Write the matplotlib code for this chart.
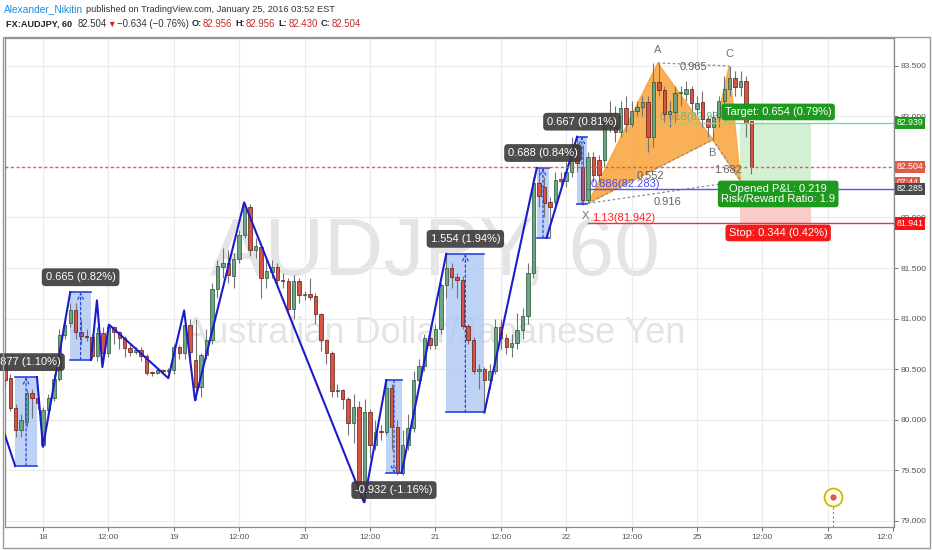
import numpy as np
import matplotlib
matplotlib.use('Agg')
import matplotlib.pyplot as plt
import matplotlib.transforms as mtransforms
from matplotlib.patches import Rectangle, Polygon

plt.rcParams['font.family'] = ['Liberation Sans', 'DejaVu Sans']

# hourly bars, index 0 = Jan 18 00:00 (weekend hours removed)
bar_start = -7
opens = [80.56, 80.41, 80.11, 79.90, 79.98, 80.26, 80.21, 79.75, 80.09, 80.21,
         80.40, 80.84, 80.96, 81.08, 80.87, 80.83, 80.82, 80.63, 80.86, 80.66,
         80.92, 80.87, 80.81, 80.71, 80.67, 80.69, 80.63, 80.47, 80.46, 80.49,
         80.48, 80.49, 80.72, 80.66, 80.94, 80.59, 80.32, 80.64, 80.79, 81.29,
         81.51, 81.55, 81.42, 81.59, 81.83, 82.10, 81.68, 81.71, 81.40, 81.46,
         81.51, 81.38, 81.37, 81.09, 81.37, 81.23, 81.24, 81.22, 81.04, 80.79,
         80.66, 80.28, 80.29, 80.20, 79.97, 80.12, 79.27, 80.07, 79.75, 79.89,
         79.88, 80.31, 79.93, 79.47, 79.75, 79.92, 80.39, 80.53, 80.81, 80.74,
         80.90, 81.33, 81.50, 81.41, 81.38, 80.93, 80.79, 80.48, 80.50, 80.39,
         80.48, 80.92, 80.81, 80.72, 80.76, 80.89, 81.02, 81.45, 82.34, 82.30,
         82.15, 82.15, 82.38, 82.36, 82.45, 82.72, 82.50, 82.17, 82.60, 82.57,
         82.57, 82.92, 82.96, 82.85, 83.08, 82.93, 83.05, 83.09, 83.14, 82.80,
         83.34, 83.26, 83.02, 83.04, 83.23, 83.22, 83.27, 83.07, 83.14, 82.98,
         82.90, 82.99, 83.15, 83.27, 83.38, 83.29, 83.35, 82.956]
highs = [80.60, 80.45, 80.15, 80.05, 80.30, 80.30, 80.25, 80.12, 80.25, 80.45,
         80.90, 81.00, 81.15, 81.15, 81.00, 80.90, 80.85, 80.92, 80.92, 80.95,
         80.93, 80.88, 80.83, 80.75, 80.72, 80.72, 80.65, 80.48, 80.50, 80.50,
         80.51, 80.75, 80.74, 81.00, 81.00, 81.00, 80.66, 80.90, 81.35, 81.58,
         81.70, 81.68, 81.65, 81.88, 82.14, 82.13, 81.80, 81.75, 81.60, 81.58,
         81.55, 81.45, 81.40, 81.43, 81.40, 81.27, 81.40, 81.25, 81.05, 80.80,
         80.68, 80.35, 80.30, 80.22, 80.25, 80.18, 80.20, 80.10, 80.00, 79.95,
         80.40, 80.35, 80.00, 79.90, 80.05, 80.48, 80.60, 80.85, 80.90, 80.95,
         81.35, 81.64, 81.55, 81.45, 81.42, 80.95, 80.82, 80.55, 80.52, 80.55,
         81.00, 81.00, 80.85, 80.85, 81.05, 81.10, 81.55, 82.40, 82.49, 82.40,
         82.20, 82.45, 82.45, 82.55, 82.80, 82.80, 82.72, 82.65, 82.65, 82.62,
         83.00, 83.15, 83.10, 83.15, 83.20, 83.15, 83.15, 83.20, 83.20, 83.53,
         83.53, 83.30, 83.15, 83.30, 83.30, 83.35, 83.30, 83.20, 83.25, 83.00,
         83.05, 83.20, 83.40, 83.50, 83.45, 83.45, 83.40, 82.956]
lows = [80.33, 80.08, 79.83, 79.83, 79.93, 80.02, 80.10, 79.73, 80.05, 80.18,
        80.38, 80.80, 80.92, 80.80, 80.75, 80.78, 80.60, 80.58, 80.62, 80.62,
        80.75, 80.70, 80.62, 80.63, 80.65, 80.58, 80.44, 80.43, 80.45, 80.46,
        80.46, 80.45, 80.60, 80.60, 80.55, 80.19, 80.22, 80.60, 80.75, 81.20,
        81.40, 81.35, 81.30, 81.55, 81.80, 81.62, 81.60, 81.20, 81.30, 81.40,
        81.30, 81.30, 81.05, 81.00, 81.15, 81.18, 81.18, 80.95, 80.68, 80.55,
        80.22, 80.22, 80.10, 79.85, 79.77, 79.30, 79.18, 79.62, 79.70, 79.80,
        79.85, 79.70, 79.45, 79.45, 79.70, 79.88, 80.35, 80.48, 80.70, 80.70,
        80.85, 81.20, 81.30, 81.20, 80.90, 80.75, 80.45, 80.30, 80.07, 80.30,
        80.45, 80.70, 80.65, 80.62, 80.70, 80.80, 80.95, 81.40, 82.10, 82.00,
        81.80, 82.10, 82.30, 82.30, 82.40, 82.45, 82.12, 82.14, 82.35, 82.35,
        82.50, 82.85, 82.75, 82.80, 82.85, 82.90, 83.00, 83.00, 82.65, 82.70,
        83.20, 82.95, 82.90, 82.95, 83.10, 83.15, 83.05, 83.00, 82.90, 82.80,
        82.77, 82.90, 83.10, 83.20, 83.20, 83.20, 82.80, 82.430]
closes = [80.39, 80.11, 79.90, 80.00, 80.26, 80.21, 80.16, 80.09, 80.21, 80.40,
          80.84, 80.94, 81.08, 80.87, 80.83, 80.82, 80.63, 80.86, 80.66, 80.92,
          80.87, 80.81, 80.71, 80.67, 80.69, 80.63, 80.46, 80.46, 80.49, 80.48,
          80.49, 80.72, 80.66, 80.94, 80.67, 80.32, 80.64, 80.79, 81.29, 81.52,
          81.55, 81.43, 81.59, 81.83, 82.10, 81.68, 81.72, 81.40, 81.47, 81.51,
          81.38, 81.37, 81.09, 81.37, 81.23, 81.24, 81.21, 81.04, 80.79, 80.66,
          80.28, 80.29, 80.20, 79.97, 80.12, 79.31, 80.07, 79.75, 79.88, 79.88,
          80.31, 79.93, 79.47, 79.75, 79.92, 80.39, 80.53, 80.81, 80.74, 80.90,
          81.33, 81.50, 81.41, 81.38, 80.93, 80.79, 80.48, 80.50, 80.39, 80.48,
          80.92, 80.81, 80.72, 80.76, 80.89, 81.02, 81.45, 82.34, 82.21, 82.14,
          82.10, 82.37, 82.36, 82.45, 82.72, 82.54, 82.17, 82.60, 82.42, 82.42,
          82.94, 82.96, 82.85, 83.08, 82.93, 83.05, 83.09, 83.14, 82.80, 83.34,
          83.26, 83.02, 83.05, 83.23, 83.24, 83.27, 83.13, 83.13, 82.98, 82.90,
          82.99, 83.15, 83.27, 83.38, 83.29, 83.35, 82.94, 82.504]

tick_pos = [0, 12, 24, 36, 48, 60, 72, 84, 96, 108, 120, 132, 144, 156]
tick_lab = ['18', '12:00', '19', '12:00', '20', '12:00', '21', '12:00',
            '22', '12:00', '25', '12:00', '26', '12:0']
price_ticks = [79.0, 79.5, 80.0, 80.5, 81.0, 81.5, 82.0, 82.5, 83.0, 83.5]

# swing lines (bar index, price)
zigzag = [
    [(-7.5, 79.93), (-5.1, 79.54)],
    [(-1.1, 80.42), (0.0, 79.73), (5.0, 81.26)],
    [(8.8, 80.59), (9.9, 81.18), (10.9, 80.52), (12.1, 80.94), (23.0, 80.41),
     (25.9, 81.08), (27.9, 80.19), (36.9, 82.15), (58.9, 79.18), (63.0, 80.39)],
    [(65.8, 79.47), (74.0, 81.64)],
    [(81.0, 80.07), (90.6, 82.49)],
    [(92.4, 81.80), (98.0, 82.80)],
]
# price range boxes: start, end, low, high, label, rising
ranges = [
    (-5.1, -1.1, 79.54, 80.42, '0.877 (1.10%)', True),
    (5.0, 8.8, 80.59, 81.26, '0.665 (0.82%)', True),
    (63.0, 65.8, 79.47, 80.39, '-0.932 (-1.16%)', False),
    (74.0, 81.0, 80.07, 81.64, '1.554 (1.94%)', True),
    (90.6, 92.9, 81.80, 82.49, '0.688 (0.84%)', True),
    (98.0, 99.8, 82.13, 82.80, '0.667 (0.81%)', True),
]
# XABCD pattern points
pat_names = ['X', 'A', 'B', 'C', 'D']
pat_x = [100.0, 112.8, 122.9, 125.9, 128.0]
pat_p = [82.14, 83.53, 82.77, 83.50, 82.36]

last_price = 82.504
entry, target, stop = 82.285, 82.939, 81.941

W, H = 932, 550
fig = plt.figure(figsize=(W / 100, H / 100), dpi=100)
fig.patch.set_facecolor('white')
ax = fig.add_axes([5 / W, 1 - 527 / H, 889 / W, 489 / H])
ax.set_xlim(-6.97, 156.15)
ax.set_ylim(78.936, 83.777)

# grid + axes
ax.set_xticks(tick_pos)
ax.set_xticklabels(tick_lab)
ax.get_xticklabels()[-1].set_ha('right')
ax.yaxis.tick_right()
ax.set_yticks(price_ticks)
ax.set_yticklabels(['%.3f' % p for p in price_ticks])
ax.tick_params(axis='both', labelsize=6, colors='#555555', length=3, width=0.6, pad=2)
ax.grid(True, color='#ebebeb', lw=0.8, zorder=0)
ax.set_axisbelow(True)
for s in ax.spines.values():
    s.set_color('#8c8c8c')
    s.set_linewidth(0.9)

# watermark
ax.text(0.4837, 0.515, 'AUDJPY, 60', transform=ax.transAxes, fontsize=59,
        color='#e4e4e4', ha='center', va='baseline', zorder=0.5)
ax.text(0.4837, 0.376, 'Australian Dollar/Japanese Yen', transform=ax.transAxes,
        fontsize=26, color='#e4e4e4', ha='center', va='baseline', zorder=0.5)

# price range boxes
for x0, x1, lo, hi, lab, rising in ranges:
    ax.add_patch(Rectangle((x0, lo), x1 - x0, hi - lo, fc='#a9c4f2', ec='none',
                           alpha=0.75, zorder=1))
    ax.plot([x0, x1], [hi, hi], color='#2b45d8', lw=1.2, zorder=4)
    ax.plot([x0, x1], [lo, lo], color='#2b45d8', lw=1.2, zorder=4)
    xm = (x0 + x1) / 2
    a, b = (lo, hi) if rising else (hi, lo)
    ax.annotate('', xy=(xm, b), xytext=(xm, a),
                arrowprops=dict(arrowstyle='->', ls=(0, (2, 2)), color='#2b45d8',
                                lw=0.9, shrinkA=0, shrinkB=0), zorder=4)
    t = ax.annotate(lab, xy=(xm, b), xytext=(0, 15 if rising else -17),
                    textcoords='offset pixels', ha='center', va='center',
                    fontsize=8, color='white', zorder=7,
                    bbox=dict(boxstyle='round,pad=0.35', fc='#3a3a3a', ec='none', alpha=0.9))
    t.set_clip_on(True)

# XABCD harmonic
ax.add_patch(Polygon(list(zip(pat_x[:3], pat_p[:3])), closed=True, fc='#f8a238',
                     ec='#f8a238', alpha=0.85, zorder=2))
ax.add_patch(Polygon(list(zip(pat_x[2:], pat_p[2:])), closed=True, fc='#f8a238',
                     ec='#f8a238', alpha=0.85, zorder=2))
for i, j in [(0, 2), (1, 3), (2, 4), (0, 4)]:
    ax.plot([pat_x[i], pat_x[j]], [pat_p[i], pat_p[j]], color='#8a8a8a', lw=0.9,
            ls=(0, (2, 2)), zorder=4)
ratio_txt = [('0.552', 111.4, 82.41), ('0.965', 119.3, 83.49),
             ('1.682', 125.7, 82.47), ('0.916', 114.5, 82.15)]
for s, x, p in ratio_txt:
    ax.text(x, p, s, fontsize=8, color='#606060', ha='center', va='center', zorder=5)
for s, x, p in [('A', 112.8, 83.66), ('B', 122.8, 82.64), ('C', 125.9, 83.62), ('X', 99.6, 82.01)]:
    ax.text(x, p, s, fontsize=8, color='#707070', ha='center', va='center', zorder=5)

# fib / position levels
ax.plot([100, 157], [entry, entry], color='#5555ee', lw=1.0, zorder=4)
ax.plot([100, 157], [stop, stop], color='#ff2a2a', lw=1.0, zorder=4)
ax.plot([113, 157], [target, target], color='#77d9a8', lw=1.0, zorder=4)
ax.text(100.5, 82.335, '0.886(82.283)', fontsize=8, color='#4a4aee', ha='left', va='center', zorder=5)
ax.text(100.7, 81.995, '1.13(81.942)', fontsize=8, color='#ff2020', ha='left', va='center', zorder=5)
ax.text(113.2, 82.995, '0.618(82.939)', fontsize=8, color='#5cbf80', ha='left', va='center', zorder=2.5)

ax.add_patch(Rectangle((127.9, entry), 13.1, target - entry, fc='#d3f0d3', ec='none', zorder=1))
ax.add_patch(Rectangle((127.9, stop), 13.1, entry - stop, fc='#f9cbcb', ec='none', zorder=1))

# candles
xs = np.arange(bar_start, bar_start + len(closes))
o = np.array(opens)
c = np.array(closes)
up = c >= o
ax.vlines(xs, lows, highs, color='#737375', lw=0.8, zorder=3)
ax.bar(xs, np.maximum(np.abs(c - o), 0.006), bottom=np.minimum(o, c), width=0.62,
       color=np.where(up, '#6ba583', '#d75442'),
       edgecolor=np.where(up, '#225437', '#5b1a13'), lw=0.5, zorder=3.2)

for seg in zigzag:
    ax.plot([q[0] for q in seg], [q[1] for q in seg], color='#1c1ccc', lw=1.5, zorder=4.5)

ax.axhline(last_price, color='#e05a4a', lw=1.0, ls=(0, (2, 2)), zorder=5)

# position tool labels
box_kw = dict(boxstyle='round,pad=0.3', ec='none')
ax.text(134.9, 83.045, 'Target: 0.654 (0.79%)', fontsize=8, color='white', ha='center',
        va='center', zorder=8, bbox=dict(fc='#1d9a1d', **box_kw))
ax.text(134.9, 82.233, 'Opened P&L: 0.219\nRisk/Reward Ratio: 1.9', fontsize=8,
        color='white', ha='center', va='center', linespacing=1.0, zorder=8,
        bbox=dict(fc='#1d9a1d', **box_kw))
ax.text(134.9, 81.847, 'Stop: 0.344 (0.42%)', fontsize=8, color='white', ha='center',
        va='center', zorder=8, bbox=dict(fc='#f51a1a', **box_kw))

# event marker
ax.plot([144.9], [79.23], 'o', ms=13, mfc='#fffbe6', mec='#c8b400', mew=1.2, zorder=6)
ax.plot([144.9], [79.23], 'o', ms=4.5, mfc='#e05555', mec='none', zorder=6.5)
ax.plot([144.9, 144.9], [78.936, 79.13], color='#888888', lw=0.8, ls=(0, (2, 2)), zorder=6)

# right axis price tags
tr = mtransforms.blended_transform_factory(ax.transAxes, ax.transData)
for txt, p, col in [('82.939', target, '#1d9a1d'), ('82.504', last_price, '#e05a4a'),
                    ('07:44', 82.345, '#e05a4a'), ('82.285', entry, '#4a4a4a'),
                    ('81.941', stop, '#ff1010')]:
    ax.text(1.0025, p, txt, transform=tr, fontsize=6.3, color='white', ha='left',
            va='center', clip_on=False, zorder=10,
            bbox=dict(boxstyle='square,pad=0.18', fc=col, ec='none'))

# outer frame
fig.add_artist(Rectangle((3 / W, 1 - 548 / H), 927 / W, 511 / H, transform=fig.transFigure,
                         fill=False, ec='#9a9a9a', lw=1.0))

# header, laid out left to right
renderer = fig.canvas.get_renderer()


def flow(x, y, parts):
    for s, gap, kw in parts:
        t = fig.text(x / W, 1 - y / H, s, va='center', ha='left', **kw)
        x += t.get_window_extent(renderer).width + gap


red = '#c62828'
flow(4, 9, [('Alexander_Nikitin', 3, dict(color='#1a8fd8', fontsize=7.3)),
            ('published on TradingView.com, January 25, 2016 03:52 EST', 0,
             dict(color='#333333', fontsize=6.7))])
lab = dict(color='#222222', fontsize=6.6, weight='bold')
val = dict(color=red, fontsize=6.9)
flow(6, 24, [('FX:AUDJPY, 60', 5, lab),
             ('82.504', 1, dict(color='#333333', fontsize=6.9)),
             ('\u25bc', 1, dict(color=red, fontsize=6.2)),
             ('\u22120.634 (\u22120.76%)', 3, dict(color='#333333', fontsize=6.9)),
             ('O:', 1, lab), ('82.956', 3, val),
             ('H:', 1, lab), ('82.956', 3, val),
             ('L:', 1, lab), ('82.430', 3, val),
             ('C:', 1, lab), ('82.504', 0, val)])

fig.savefig('out.png', dpi=100)
